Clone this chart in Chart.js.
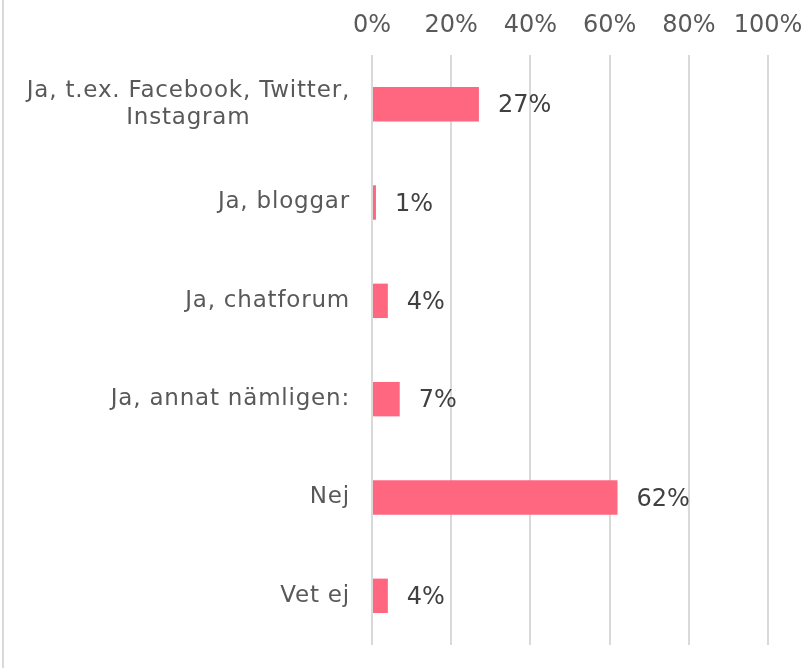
<!DOCTYPE html>
<html>
<head>
<meta charset="utf-8">
<script src="https://cdn.jsdelivr.net/npm/chart.js@4"></script>
<style>
  html, body { margin: 0; padding: 0; background: #fff; }
  #wrap { position: relative; width: 808px; height: 668px; }
  #wrap::before { content: ''; position: absolute; left: 2px; top: 0; bottom: 0; width: 2px; background: #d9d9d9; }
</style>
</head>
<body>
<div id="wrap"><canvas id="chart" width="808" height="668"></canvas></div>
<script>
const categories = [
    ['Ja, t.ex. Facebook, Twitter,', 'Instagram'],
    ['Ja, bloggar'],
    ['Ja, chatforum'],
    ['Ja, annat nämligen:'],
    ['Nej'],
    ['Vet ej']
];
const values = [27, 1, 4, 7, 62, 4];
const tickValues = [0, 20, 40, 60, 80, 100];

const FONT = '"DejaVu Sans", Verdana, sans-serif';

// category labels: right-aligned block, lines centred inside the block
const categoryLabels = {
    id: 'categoryLabels',
    afterDraw(chart) {
        const ctx = chart.ctx;
        const y = chart.scales.y;
        const right = chart.chartArea.left - 22;
        ctx.save();
        ctx.font = '23px ' + FONT;
        ctx.letterSpacing = '0.8px';
        ctx.fillStyle = '#595959';
        ctx.textAlign = 'center';
        ctx.textBaseline = 'middle';
        const lh = 27;
        categories.forEach((lines, i) => {
            const cy = y.getPixelForTick(i);
            const w = Math.max(...lines.map(l => ctx.measureText(l).width));
            const cx = right - w / 2;
            const y0 = cy - (lines.length - 1) * lh / 2;
            lines.forEach((l, j) => ctx.fillText(l, cx, y0 + j * lh));
        });
        ctx.restore();
    }
};

// value labels at the end of each bar
const valueLabels = {
    id: 'valueLabels',
    afterDatasetsDraw(chart) {
        const ctx = chart.ctx;
        const meta = chart.getDatasetMeta(0);
        ctx.save();
        ctx.font = '24px ' + FONT;
        ctx.fillStyle = '#404040';
        ctx.textAlign = 'left';
        ctx.textBaseline = 'middle';
        meta.data.forEach((bar, i) => {
            ctx.fillText(values[i] + '%', bar.x + 19, bar.y + 2);
        });
        ctx.restore();
    }
};

new Chart(document.getElementById('chart'), {
    type: 'bar',
    data: {
        labels: categories,
        datasets: [{
            data: values,
            backgroundColor: '#ff6680',
            borderWidth: 0,
            barPercentage: 0.35,
            categoryPercentage: 1
        }]
    },
    options: {
        indexAxis: 'y',
        responsive: false,
        animation: false,
        layout: { padding: { top: 0, right: 40, bottom: 23, left: 0 } },
        plugins: { legend: { display: false }, tooltip: { enabled: false } },
        scales: {
            x: {
                position: 'top',
                min: 0,
                max: 100,
                afterBuildTicks(scale) {
                    scale.ticks = tickValues.map(v => ({ value: v }));
                },
                afterFit(scale) {
                    scale.height = 55;
                    scale.paddingLeft = 0;
                    scale.paddingRight = 0;
                },
                grid: { color: '#d9d9d9', lineWidth: 2, drawTicks: false },
                border: { display: false },
                ticks: {
                    padding: 15,
                    color: '#595959',
                    font: { family: FONT, size: 24 },
                    callback: v => v + '%'
                }
            },
            y: {
                afterFit(scale) { scale.width = 372; },
                grid: { display: false },
                border: { display: false },
                ticks: { display: false }
            }
        }
    },
    plugins: [categoryLabels, valueLabels]
});
</script>
</body>
</html>
